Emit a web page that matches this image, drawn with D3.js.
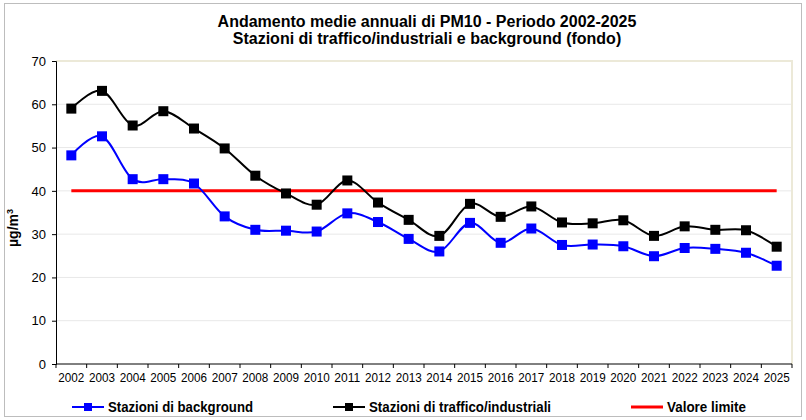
<!DOCTYPE html>
<html>
<head>
<meta charset="utf-8">
<script src="https://cdn.jsdelivr.net/npm/d3@7"></script>
<style>
  body { margin: 0; background: #fff; }
  svg { display: block; }
</style>
</head>
<body>
<svg></svg>
<script>
var years = ["2002","2003","2004","2005","2006","2007","2008","2009","2010","2011","2012","2013",
             "2014","2015","2016","2017","2018","2019","2020","2021","2022","2023","2024","2025"];

var background = [48.2, 52.6, 42.7, 42.7, 41.7, 34.1, 31.0, 30.8, 30.6, 34.8, 32.8, 28.9,
                  26.0, 32.6, 28.0, 31.3, 27.5, 27.6, 27.2, 24.9, 26.8, 26.6, 25.7, 22.7];

var traffico = [59.0, 63.1, 55.1, 58.4, 54.4, 49.8, 43.5, 39.4, 36.8, 42.4, 37.3, 33.3,
                29.6, 37.0, 34.0, 36.4, 32.7, 32.5, 33.2, 29.6, 31.8, 31.0, 30.9, 27.1];

var limite = 40;
var yTicks = [0, 10, 20, 30, 40, 50, 60, 70];

var titleLines = ["Andamento medie annuali di PM10 - Periodo 2002-2025",
                  "Stazioni di traffico/industriali e background (fondo)"];
var yLabel = "µg/m";

var legendItems = [
  {name: "Stazioni di background", color: "#0000ff", marker: true, x: 72, w: 145},
  {name: "Stazioni di traffico/industriali", color: "#000000", marker: true, x: 333, w: 182},
  {name: "Valore limite", color: "#ff0000", marker: false, x: 631, w: 79}
];

var width = 806, height = 420;
var plot = {left: 56, right: 792, top: 61, bottom: 364};

var svg = d3.select("svg")
  .attr("width", width)
  .attr("height", height)
  .style("font-family", "'Liberation Sans', Arial, sans-serif");

// outer frame
svg.append("rect")
  .attr("x", 4.5).attr("y", 3.5)
  .attr("width", 797).attr("height", 413)
  .attr("fill", "#fff")
  .attr("stroke", "#bdbdbd")
  .attr("stroke-width", 1);

var xScale = d3.scaleBand()
  .domain(years)
  .range([plot.left, plot.right]);

var yScale = d3.scaleLinear()
  .domain([0, 70])
  .range([plot.bottom, plot.top]);

// gridlines
svg.append("g")
  .selectAll("line")
  .data(yTicks.filter(function(d){ return d > 0 && d < 70; }))
  .enter().append("line")
  .attr("x1", plot.left).attr("x2", plot.right)
  .attr("y1", function(d){ return yScale(d); })
  .attr("y2", function(d){ return yScale(d); })
  .attr("stroke", "#e8e8e8")
  .attr("stroke-width", 1);

// plot frame top/right (beige)
svg.append("path")
  .attr("d", "M" + plot.left + "," + yScale(70) + "H" + plot.right + "V" + plot.bottom)
  .attr("fill", "none")
  .attr("stroke", "#ece9d8")
  .attr("stroke-width", 2);

// y axis
var yAxis = d3.axisLeft(yScale)
  .tickValues(yTicks)
  .tickSize(4)
  .tickPadding(6);

var gy = svg.append("g")
  .attr("transform", "translate(" + plot.left + ",0)")
  .call(yAxis);
gy.select(".domain").attr("stroke", "#000");
gy.selectAll(".tick line").attr("stroke", "#000");
gy.selectAll("text")
  .attr("font-size", 13)
  .attr("font-family", "'Liberation Sans', Arial, sans-serif")
  .attr("fill", "#000");

// x axis: ticks on category boundaries
var xAxis = d3.axisBottom(xScale)
  .tickSize(0)
  .tickPadding(9);

var gx = svg.append("g")
  .attr("transform", "translate(0," + plot.bottom + ")")
  .call(xAxis);
gx.select(".domain").attr("d", "M" + plot.left + ",0H" + plot.right).attr("stroke", "#000");
gx.selectAll("text")
  .attr("font-size", 12)
  .attr("font-family", "'Liberation Sans Narrow', 'Arial Narrow', 'Liberation Sans', sans-serif")
  .attr("textLength", 26)
  .attr("lengthAdjust", "spacingAndGlyphs")
  .attr("fill", "#000");

var bounds = years.map(function(d){ return xScale(d); }).concat([plot.right]);
svg.append("g")
  .selectAll("line")
  .data(bounds)
  .enter().append("line")
  .attr("x1", function(d){ return d; })
  .attr("x2", function(d){ return d; })
  .attr("y1", plot.bottom)
  .attr("y2", plot.bottom + 4)
  .attr("stroke", "#000");

// y label
svg.append("text")
  .attr("transform", "translate(18,228) rotate(-90)")
  .attr("text-anchor", "middle")
  .attr("font-size", 14)
  .attr("font-weight", "bold")
  .text(yLabel)
  .append("tspan")
  .attr("baseline-shift", "super")
  .attr("font-size", 9)
  .text("3");

// title
svg.append("g")
  .selectAll("text")
  .data(titleLines)
  .enter().append("text")
  .attr("x", 427)
  .attr("y", function(d, i){ return 27 + i * 17; })
  .attr("text-anchor", "middle")
  .attr("font-size", 16)
  .attr("font-weight", "bold")
  .text(function(d){ return d; });

var cx = function(d, i){ return xScale(years[i]) + xScale.bandwidth() / 2; };

var line = d3.line()
  .x(cx)
  .y(function(d){ return yScale(d); })
  .curve(d3.curveCardinal.tension(0));

// limit line
svg.append("line")
  .attr("x1", cx(null, 0))
  .attr("x2", cx(null, years.length - 1))
  .attr("y1", yScale(limite))
  .attr("y2", yScale(limite))
  .attr("stroke", "#ff0000")
  .attr("stroke-width", 3);

var drawSeries = function(values, color)
{
  svg.append("path")
    .datum(values)
    .attr("d", line)
    .attr("fill", "none")
    .attr("stroke", color)
    .attr("stroke-width", 2);

  svg.append("g")
    .selectAll("rect")
    .data(values)
    .enter().append("rect")
    .attr("x", function(d, i){ return cx(d, i) - 5; })
    .attr("y", function(d){ return yScale(d) - 5; })
    .attr("width", 10)
    .attr("height", 10)
    .attr("fill", color);
}

drawSeries(background, "#0000ff");
drawSeries(traffico, "#000000");

// legend
var ly = 407;
var lg = svg.append("g")
  .selectAll("g")
  .data(legendItems)
  .enter().append("g");

lg.append("line")
  .attr("x1", function(d){ return d.x; })
  .attr("x2", function(d){ return d.x + 32; })
  .attr("y1", ly).attr("y2", ly)
  .attr("stroke", function(d){ return d.color; })
  .attr("stroke-width", function(d){ return d.marker ? 2 : 3; });

lg.filter(function(d){ return d.marker; })
  .append("rect")
  .attr("x", function(d){ return d.x + 12; })
  .attr("y", ly - 4)
  .attr("width", 8).attr("height", 8)
  .attr("fill", function(d){ return d.color; });

lg.append("text")
  .attr("x", function(d){ return d.x + 36; })
  .attr("y", ly + 5)
  .attr("font-size", 14)
  .attr("font-weight", "bold")
  .attr("font-family", "'Liberation Sans Narrow', 'Arial Narrow', 'Liberation Sans', sans-serif")
  .attr("textLength", function(d){ return d.w; })
  .attr("lengthAdjust", "spacingAndGlyphs")
  .text(function(d){ return d.name; });
</script>
</body>
</html>
